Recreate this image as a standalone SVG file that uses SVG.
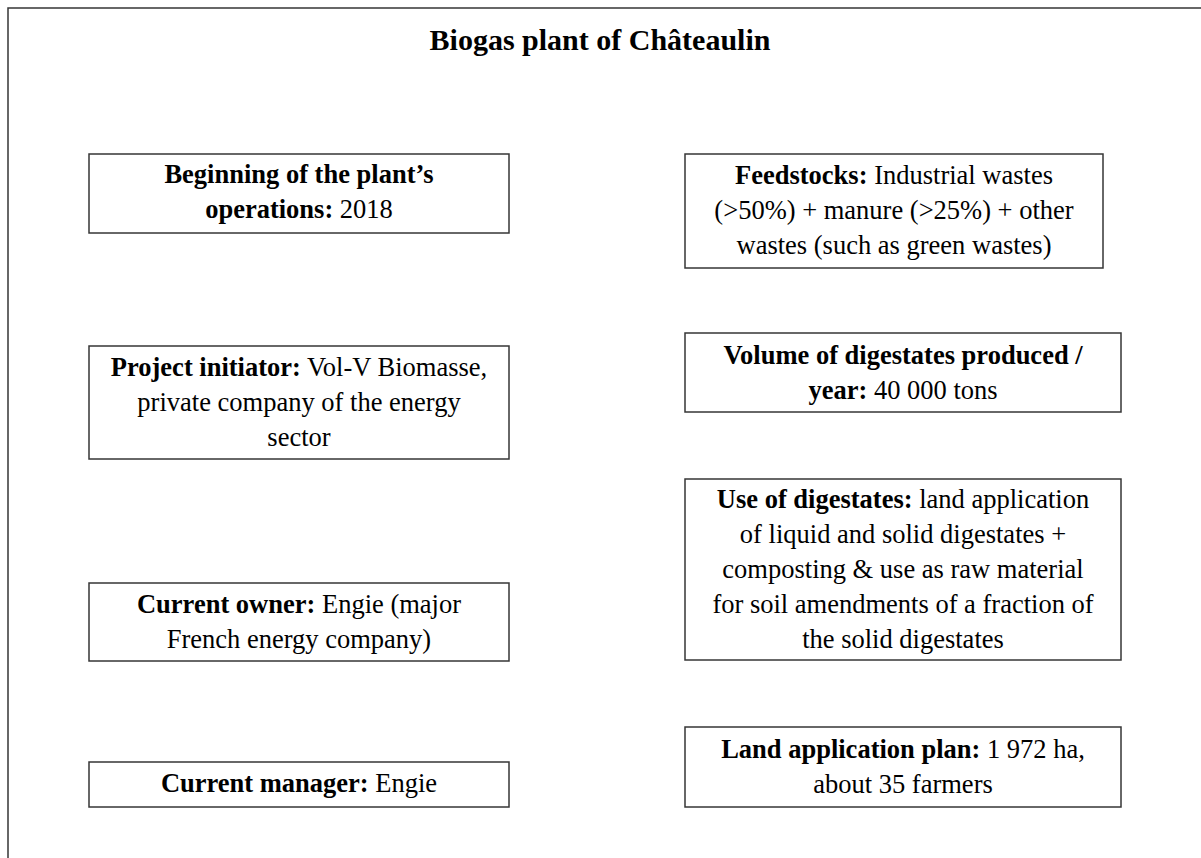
<svg xmlns="http://www.w3.org/2000/svg" width="1201" height="858" viewBox="0 0 1201 858">
<style>
.box{fill:#fff;stroke:#363636;stroke-width:1.5}
.t{font-family:"Liberation Serif","Times New Roman",serif;font-size:26.5px;fill:#000;text-anchor:middle}
.b{font-weight:bold}
.title{font-family:"Liberation Serif","Times New Roman",serif;font-size:30px;font-weight:bold;text-anchor:middle;fill:#000}
</style>
<rect width="1201" height="858" fill="#fff"/>
<path d="M8 858 V8 H1201" fill="none" stroke="#363636" stroke-width="1.5"/>
<text class="title" x="600" y="50">Biogas plant of Châteaulin</text>
<g id="connectors"/>
<g id="n-beginning">
<rect class="box" x="89" y="154" width="420" height="79"/>
<text class="t" x="299" y="183"><tspan class="b">Beginning of the plant’s</tspan></text>
<text class="t" x="299" y="218"><tspan class="b">operations:</tspan> 2018</text>
</g>
<g id="n-initiator">
<rect class="box" x="89" y="346" width="420" height="113"/>
<text class="t" x="299" y="376"><tspan class="b">Project initiator:</tspan> Vol-V Biomasse,</text>
<text class="t" x="299" y="411">private company of the energy</text>
<text class="t" x="299" y="446">sector</text>
</g>
<g id="n-owner">
<rect class="box" x="89" y="583" width="420" height="78"/>
<text class="t" x="299" y="613"><tspan class="b">Current owner:</tspan> Engie (major</text>
<text class="t" x="299" y="648">French energy company)</text>
</g>
<g id="n-manager">
<rect class="box" x="89" y="762" width="420" height="45"/>
<text class="t" x="299" y="792"><tspan class="b">Current manager:</tspan> Engie</text>
</g>
<g id="n-feedstocks">
<rect class="box" x="685" y="154" width="418" height="114"/>
<text class="t" x="894" y="184"><tspan class="b">Feedstocks:</tspan> Industrial wastes</text>
<text class="t" x="894" y="219">(&gt;50%) + manure (&gt;25%) + other</text>
<text class="t" x="894" y="254">wastes (such as green wastes)</text>
</g>
<g id="n-volume">
<rect class="box" x="685" y="333" width="436" height="79"/>
<text class="t" x="903" y="364"><tspan class="b">Volume of digestates produced /</tspan></text>
<text class="t" x="903" y="399"><tspan class="b">year:</tspan> 40 000 tons</text>
</g>
<g id="n-use">
<rect class="box" x="685" y="479" width="436" height="181"/>
<text class="t" x="903" y="508"><tspan class="b">Use of digestates:</tspan> land application</text>
<text class="t" x="903" y="543">of liquid and solid digestates +</text>
<text class="t" x="903" y="578">composting &amp; use as raw material</text>
<text class="t" x="903" y="613">for soil amendments of a fraction of</text>
<text class="t" x="903" y="648">the solid digestates</text>
</g>
<g id="n-land">
<rect class="box" x="685" y="727" width="436" height="80"/>
<text class="t" x="903" y="758"><tspan class="b">Land application plan:</tspan> 1 972 ha,</text>
<text class="t" x="903" y="793">about 35 farmers</text>
</g>
</svg>
